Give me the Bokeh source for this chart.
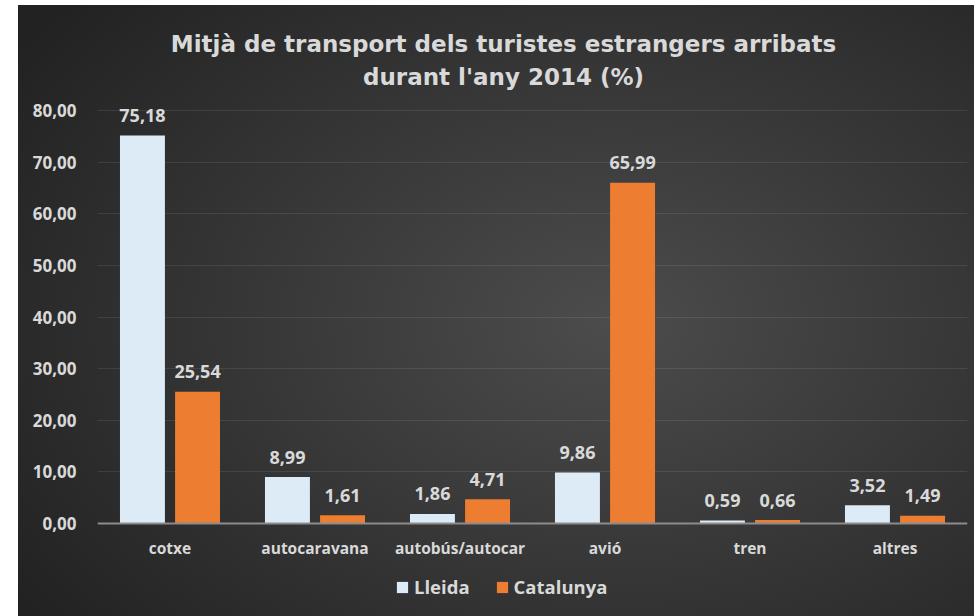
from bokeh.plotting import figure
from bokeh.models import (ColumnDataSource, FactorRange, Range1d, FixedTicker, Label,
                          Legend, LegendItem, Spacer)
from bokeh.layouts import row, column
from bokeh.transform import dodge
from bokeh.core.properties import value
from bokeh.embed import file_html
from bokeh.resources import INLINE

# ---- data ----
categories = ["cotxe", "autocaravana", "autobús/autocar", "avió", "tren", "altres"]
lleida = [75.18, 8.99, 1.86, 9.86, 0.59, 3.52]
catalunya = [25.54, 1.61, 4.71, 65.99, 0.66, 1.49]
series_names = ["Lleida", "Catalunya"]
ytick_values = [0, 10, 20, 30, 40, 50, 60, 70, 80]
ytick_labels = ["0,00", "10,00", "20,00", "30,00", "40,00", "50,00", "60,00", "70,00", "80,00"]
title_lines = ["Mitjà de transport dels turistes estrangers arribats", "durant l'any 2014 (%)"]

def fmt(v):
    return f"{v:.2f}".replace(".", ",")

source = ColumnDataSource(dict(
    cat=categories,
    lleida=lleida,
    catalunya=catalunya,
    lleida_lbl=[fmt(v) for v in lleida],
    catalunya_lbl=[fmt(v) for v in catalunya],
))

FONT = "Open Sans"
TITLE_FONT = "DejaVu Sans"
TXT = "#d9d9d9"
C_LLEIDA = "#ddebf7"
C_CAT = "#ed7d31"

# frame spans the full height of the panel; the value axis keeps 0..80 ticks
p = figure(width=956, height=611, output_backend="svg", toolbar_location=None,
           x_range=FactorRange(*categories), y_range=Range1d(-18.01, 100.34),
           min_border_left=79, min_border_right=7, min_border_top=0, min_border_bottom=0)
p.border_fill_color = None
p.background_fill_color = None
p.outline_line_color = None
p.styles = {"background-image":
            "radial-gradient(ellipse 75% 80% at 62% 52%, #4c4c4c 0%, #393939 45%, #222222 100%)"}

r1 = p.vbar(x=dodge("cat", -0.19, range=p.x_range), top="lleida", width=0.31,
            source=source, fill_color=C_LLEIDA, line_color=None)
r2 = p.vbar(x=dodge("cat", 0.19, range=p.x_range), top="catalunya", width=0.31,
            source=source, fill_color=C_CAT, line_color=None)

for col, off in (("lleida_lbl", -0.19), ("catalunya_lbl", 0.19)):
    ycol = col.replace("_lbl", "")
    p.text(x=dodge("cat", off, range=p.x_range), y=ycol, text=col, source=source,
           text_align="center", text_baseline="alphabetic", y_offset=-20,
           text_font=value(FONT), text_font_style="bold", text_font_size="18px",
           text_color=TXT)

# axes
p.yaxis.ticker = FixedTicker(ticks=ytick_values)
p.yaxis.major_label_overrides = dict(zip(ytick_values, ytick_labels))
p.yaxis.axis_line_color = None
p.yaxis.major_tick_line_color = None
p.yaxis.minor_tick_line_color = None
p.yaxis.major_label_standoff = 15
p.yaxis.major_label_text_font = FONT
p.yaxis.major_label_text_font_style = "bold"
p.yaxis.major_label_text_font_size = "17px"
p.yaxis.major_label_text_color = TXT

p.xaxis.fixed_location = 0
p.xaxis.axis_line_color = "#8c8c8c"
p.xaxis.axis_line_width = 2
p.xaxis.major_tick_line_color = None
p.xaxis.minor_tick_line_color = None
p.xaxis.major_label_standoff = 7
p.xaxis.major_label_text_font = FONT
p.xaxis.major_label_text_font_style = "bold"
p.xaxis.major_label_text_font_size = "15.5px"
p.xaxis.major_label_text_color = TXT

p.xgrid.grid_line_color = None
p.ygrid.ticker = FixedTicker(ticks=ytick_values[1:])
p.ygrid.grid_line_color = "#ffffff"
p.ygrid.grid_line_alpha = 0.09
p.ygrid.grid_line_width = 1

# title (two lines)
for txt, yy in zip(title_lines, (573, 540)):
    p.add_layout(Label(x=406, y=yy, x_units="screen", y_units="screen", text=txt,
                       text_align="center", text_baseline="alphabetic",
                       text_font=TITLE_FONT, text_font_style="bold", text_font_size="23px",
                       text_color=TXT))

legend = Legend(items=[LegendItem(label=series_names[0], renderers=[r1]),
                       LegendItem(label=series_names[1], renderers=[r2])],
                orientation="horizontal", location=(298, 17))
legend.background_fill_alpha = 0
legend.border_line_color = None
legend.glyph_width = 14
legend.glyph_height = 14
legend.label_standoff = 5
legend.spacing = 25
legend.padding = 0
legend.margin = 0
legend.label_text_font = FONT
legend.label_text_font_style = "bold"
legend.label_text_font_size = "18.5px"
legend.label_text_color = TXT
p.add_layout(legend)

layout = column(Spacer(width=974, height=5), row(Spacer(width=18, height=611), p))
open("out.html", "w").write(file_html(layout, INLINE))
